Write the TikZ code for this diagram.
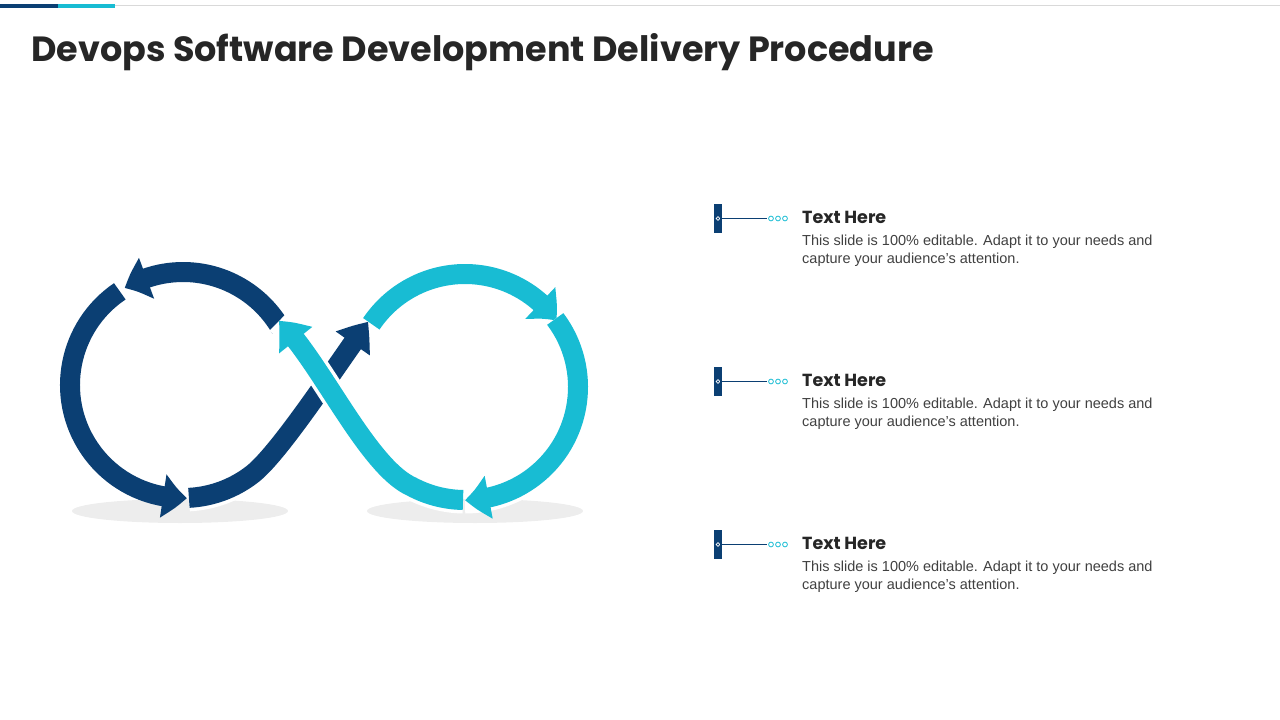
\documentclass[tikz,border=0pt]{standalone}
\usepackage{fontspec}
\setmainfont{Liberation Sans}
\newfontfamily\popfont{Poppins}
\usetikzlibrary{arrows.meta,bending}
\definecolor{dblue}{HTML}{0B3F73}
\definecolor{cyanc}{HTML}{18BCD3}
\definecolor{bodyc}{HTML}{404040}
\definecolor{shad}{HTML}{EDEDED}
\tikzset{
  seg/.style={line width=20pt, -{Triangle[width=42pt,length=24pt,bend]}},
  gap/.style={preaction={draw=white,line width=27pt,-}},
  hd/.style={anchor=base west, font=\popfont\fontsize{17.5}{20}\selectfont\bfseries, text=black!85, inner sep=0},
  bd/.style={anchor=north west, font=\fontsize{14.5}{18}\selectfont, text=bodyc, inner sep=0, align=left},
}
\begin{document}
\begin{tikzpicture}[x=1pt,y=-1pt]
\useasboundingbox (0,0) rectangle (1280,720);
% top bar
\draw[black!15,line width=1pt] (0,5.5) -- (1280,5.5);
\fill[dblue] (0,3.5) rectangle (58,7.5);
\fill[cyanc] (58,3.5) rectangle (115,7.5);
\node[anchor=base west,inner sep=0,font=\popfont\fontsize{35}{40}\selectfont\bfseries,text=black!85] (title) at (31,61) {Devops Software Development Delivery Procedure};
% shadows
\fill[shad] (180,511) ellipse [x radius=108, y radius=12];
\fill[shad] (475,511) ellipse [x radius=108, y radius=12];
% dark loop (y down: angles mirrored)
\draw[dblue,seg] (183,385) ++(-124:113) arc[start angle=-124,end angle=-272,radius=113];
\draw[dblue,seg,gap] (183,385) ++(-30:113) arc[start angle=-30,end angle=-121,radius=113];
\draw[dblue,seg,gap] (183,385) ++(-273:113) arc[start angle=-273,end angle=-308,radius=113]
   .. controls +(28,-22) and (340,360) .. (368,322);
% cyan loop
\draw[cyanc,seg] (465,387) ++(-146:113) arc[start angle=-146,end angle=-36,radius=113];
\draw[cyanc,seg,gap] (465,387) ++(-37:113) arc[start angle=-37,end angle=90,radius=113];
\draw[cyanc,seg,gap] (465,387) ++(91:113) arc[start angle=91,end angle=118,radius=113]
   .. controls +(-45,-20) and (320,360) .. (279,321);
% items
\foreach \i/\y in {1/204,2/367,3/530}{
  \fill[dblue] (714,\y) rectangle (722,\y+29);
  \draw[white,line width=0.7pt] (718,\y+14.5) circle (1.8);
  \draw[dblue,line width=0.8pt] (720,\y+14.5) -- (767,\y+14.5);
  \foreach \cx in {771,778,785} \draw[cyanc,line width=0.8pt] (\cx,\y+14.5) circle (2.4);
  \node[hd] (h\i) at (802,\y+19) {Text Here};
  \node[bd] (b\i) at (802,\y+31) {This slide is 100\% editable. Adapt it to your needs and\\capture your audience's attention.};
}
\end{tikzpicture}
\end{document}
